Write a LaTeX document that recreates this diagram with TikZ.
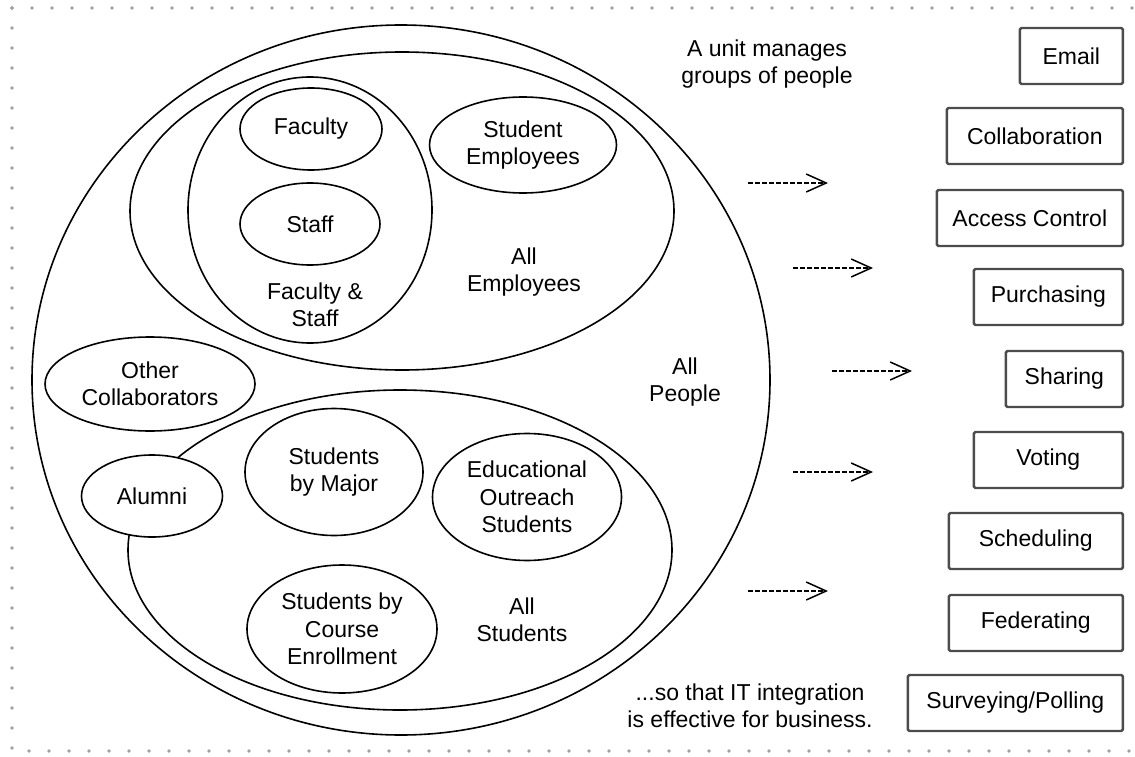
\documentclass[tikz,border=0pt]{standalone}
\usepackage{fontspec}
\setmainfont{Liberation Sans}
\usetikzlibrary{arrows.meta,shapes.geometric,positioning}

\begin{document}
\begin{tikzpicture}[x=1pt, y=-1pt,
		every node/.style={font=\fontsize{23}{27.5}\selectfont, align=center, text=black},
		set/.style={ellipse, draw, line width=1.6pt, inner sep=0pt, fill=white},
		service/.style={rectangle, draw=black!70, line width=2.4pt, rounded corners=1.5pt, minimum height=56pt, anchor=east},
		flow/.style={dash pattern=on 4.5pt off 2.5pt, line width=1.6pt, -{Straight Barb[length=20pt,width=18pt,line width=1.5pt,sep=0pt]}},
		border/.style={gray!75, line width=3.8pt, line cap=round, dash pattern=on 0pt off 20pt}]
				\useasboundingbox (0, 0) rectangle (1135, 757);
				\draw [border] (12, 8) -- (1135, 8);
				\draw [border] (12, 8) -- (12, 751) -- (1135, 751);

				% groups of people
				\node [set, minimum width=738, minimum height=710] (people) at (401, 380) {};
				\node [set, minimum width=544, minimum height=318] (employees) at (402, 211) {};
				\node [set, minimum width=244, minimum height=266] (facstaff) at (310, 210) {};
				\node [set, minimum width=142, minimum height=82] (faculty) at (311, 129) {Faculty};
				\node [set, minimum width=140, minimum height=82] (staff) at (310, 224) {Staff};
				\node [set, minimum width=187, minimum height=96] (stemp) at (523, 145) {Student\\Employees};
				\node [set, minimum width=210, minimum height=94] (others) at (150, 384) {Other\\Collaborators};
				\node [set, minimum width=544, minimum height=320] (students) at (400, 550) {};
				\node [set, minimum width=178, minimum height=127] (major) at (334, 472) {Students\\by Major};
				\node [set, minimum width=189, minimum height=127] (outreach) at (527, 497) {Educational\\Outreach\\Students};
				\node [set, minimum width=190, minimum height=128] (course) at (342, 629) {Students by\\Course\\Enrollment};
				\node [set, minimum width=141, minimum height=82] (alumni) at (152, 496) {Alumni};

				\node (facstafflbl) at (315, 305) {Faculty \&\\Staff};
				\node (employeeslbl) at (524, 272) {All\\Employees};
				\node (peoplelbl) at (685, 382) {All\\People};
				\node (studentslbl) at (522, 620) {All\\Students};
				\node (unit) at (767, 64) {A unit manages\\groups of people};
				\node (business) at (750, 706) {...so that IT integration\\is effective for business.};

				% services
				\node [service, minimum width=103] (email) at (1124, 56) {Email};
				\node [service, minimum width=176] (collab) at (1124, 136) {Collaboration};
				\node [service, minimum width=186] (access) at (1124, 218) {Access Control};
				\node [service, minimum width=149] (purchasing) at (1124, 297) {Purchasing};
				\node [service, minimum width=117] (sharing) at (1124, 379) {Sharing};
				\node [service, minimum width=149] (voting) at (1124, 460) {Voting};
				\node [service, minimum width=174] (scheduling) at (1124, 541) {Scheduling};
				\node [service, minimum width=174] (federating) at (1124, 623) {Federating};
				\node [service, minimum width=215] (polling) at (1124, 703) {Surveying/Polling};

				% arrows
				\coordinate (flow1a) at (748, 183);
				\coordinate (flow1b) at (828, 183);
				\coordinate (flow2a) at (793, 268);
				\coordinate (flow2b) at (873, 268);
				\coordinate (flow3a) at (832, 371);
				\coordinate (flow3b) at (912, 371);
				\coordinate (flow4a) at (793, 472);
				\coordinate (flow4b) at (873, 472);
				\coordinate (flow5a) at (748, 591);
				\coordinate (flow5b) at (828, 591);

				\draw [flow] (flow1a) to (flow1b);
				\draw [flow] (flow2a) to (flow2b);
				\draw [flow] (flow3a) to (flow3b);
				\draw [flow] (flow4a) to (flow4b);
				\draw [flow] (flow5a) to (flow5b);
		\end{tikzpicture}
\end{document}
